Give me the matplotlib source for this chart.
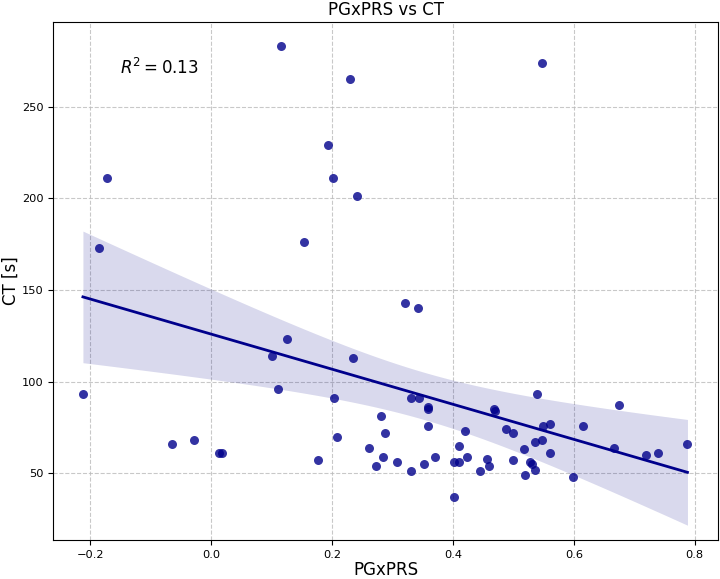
import numpy as np
import matplotlib
matplotlib.use("Agg")
import matplotlib.pyplot as plt

# Data
pgxprs = [0.115, 0.230, 0.193, -0.172, 0.202, 0.242, -0.185, 0.154, -0.212, 0.126,
          0.101, 0.110, 0.235, 0.204, 0.281, 0.288, 0.209, 0.262, 0.285, 0.272,
          0.177, -0.064, -0.029, 0.013, 0.018, 0.320, 0.342, 0.331, 0.344, 0.358,
          0.358, 0.358, 0.307, 0.331, 0.352, 0.370, 0.401, 0.410, 0.410, 0.420,
          0.423, 0.402, 0.444, 0.457, 0.460, 0.468, 0.469, 0.487, 0.500, 0.499,
          0.517, 0.520, 0.528, 0.531, 0.536, 0.536, 0.548, 0.539, 0.549, 0.561,
          0.561, 0.599, 0.615, 0.666, 0.675, 0.720, 0.739, 0.788, 0.547]
ct = [283, 265, 229, 211, 211, 201, 173, 176, 93, 123,
      114, 96, 113, 91, 81, 72, 70, 64, 59, 54,
      57, 66, 68, 61, 61, 143, 140, 91, 91, 86,
      85, 76, 56, 51, 55, 59, 56, 56, 65, 73,
      59, 37, 51, 58, 54, 85, 84, 74, 72, 57,
      63, 49, 56, 55, 52, 67, 68, 93, 76, 77,
      61, 48, 76, 64, 87, 60, 61, 66, 274]

title = "PGxPRS vs CT"
xlabel = "PGxPRS"
ylabel = "CT [s]"

x = np.array(pgxprs, dtype=float)
y = np.array(ct, dtype=float)

# Linear fit and analytic 95% confidence band
n = len(x)
slope, intercept = np.polyfit(x, y, 1)
resid = y - (slope * x + intercept)
r2 = 1 - np.sum(resid**2) / np.sum((y - y.mean())**2)
s = np.sqrt(np.sum(resid**2) / (n - 2))
sxx = np.sum((x - x.mean())**2)
xg = np.linspace(x.min(), x.max(), 100)
yg = slope * xg + intercept
se = s * np.sqrt(1.0 / n + (xg - x.mean())**2 / sxx)
tval = 1.996
lo, hi = yg - tval * se, yg + tval * se

fig = plt.figure(figsize=(7.2, 5.79), dpi=100)
ax = fig.add_axes([53.3 / 720, 1 - 540 / 579, 665 / 720, 518 / 579])

color = "darkblue"
ax.fill_between(xg, lo, hi, color=color, alpha=0.15, linewidth=0)
ax.plot(xg, yg, color=color, linewidth=2)
ax.scatter(x, y, color=color, alpha=0.8, s=42, linewidths=0, zorder=3)

ax.set_xlim(-0.261, 0.839)
ax.set_ylim(13.6, 296.2)
ax.grid(True, linestyle="--", color="#bbbbbb", linewidth=0.8, alpha=0.8)
ax.set_axisbelow(True)
ax.set_title(title, fontsize=12, pad=5.3)
ax.set_xlabel(xlabel, fontsize=12)
ax.set_ylabel(ylabel, fontsize=12)
ax.xaxis.set_label_coords(0.5, -0.041)
ax.yaxis.set_label_coords(-0.050, 0.5)
ax.tick_params(labelsize=8.2)
ax.text(0.1, 0.9, rf"$R^2 = {r2:.2f}$", transform=ax.transAxes, fontsize=12)

fig.savefig("out.png", dpi=100)
